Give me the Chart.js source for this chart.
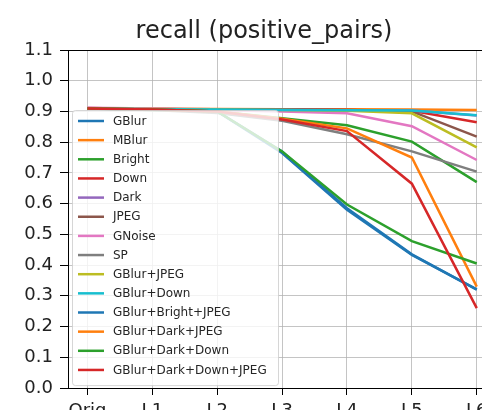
<!DOCTYPE html>
<html>
<head>
<meta charset="utf-8">
<script src="https://cdn.jsdelivr.net/npm/chart.js@4.4.1/dist/chart.umd.min.js"></script>
<style>
  html, body { margin: 0; padding: 0; overflow: hidden; background: #fff; }
  #wrap { width: 482px; height: 410px; overflow: hidden; }
</style>
</head>
<body>
<div id="wrap"><canvas id="recallChart" width="528" height="430"></canvas></div>
<script>
// x positions: original image and six attack levels
var levels = ["Orig", "L1", "L2", "L3", "L4", "L5", "L6"];

var attackNames = ["GBlur", "MBlur", "Bright", "Down", "Dark", "JPEG", "GNoise", "SP",
    "GBlur+JPEG", "GBlur+Down", "GBlur+Bright+JPEG", "GBlur+Dark+JPEG",
    "GBlur+Dark+Down", "GBlur+Dark+Down+JPEG"];

// matplotlib tab10 cycle
var lineColors = ["#1f77b4", "#ff7f0e", "#2ca02c", "#d62728", "#9467bd", "#8c564b", "#e377c2",
    "#7f7f7f", "#bcbd22", "#17becf", "#1f77b4", "#ff7f0e", "#2ca02c", "#d62728"];

// recall per level, one list per attack
var gblur           = [0.910, 0.907, 0.900, 0.770, 0.585, 0.435, 0.320];
var mblur           = [0.910, 0.908, 0.908, 0.907, 0.907, 0.906, 0.905];
var bright          = [0.910, 0.905, 0.900, 0.878, 0.855, 0.802, 0.670];
var down            = [0.911, 0.908, 0.907, 0.906, 0.905, 0.902, 0.865];
var dark            = [0.910, 0.907, 0.906, 0.905, 0.904, 0.903, 0.887];
var jpeg            = [0.910, 0.908, 0.907, 0.906, 0.905, 0.900, 0.818];
var gnoise          = [0.912, 0.910, 0.905, 0.900, 0.894, 0.852, 0.742];
var sp              = [0.910, 0.905, 0.895, 0.870, 0.826, 0.770, 0.704];
var gblurJpeg       = [0.910, 0.908, 0.906, 0.905, 0.902, 0.894, 0.783];
var gblurDown       = [0.910, 0.907, 0.906, 0.905, 0.904, 0.903, 0.888];
var gblurBrightJpeg = [0.910, 0.906, 0.900, 0.765, 0.580, 0.433, 0.321];
var gblurDarkJpeg   = [0.910, 0.906, 0.900, 0.876, 0.845, 0.750, 0.330];
var gblurDarkDown   = [0.910, 0.906, 0.900, 0.770, 0.597, 0.478, 0.405];
var gblurDarkDownJpeg = [0.910, 0.906, 0.900, 0.874, 0.836, 0.665, 0.260];

var allSeries = [gblur, mblur, bright, down, dark, jpeg, gnoise, sp, gblurJpeg, gblurDown,
    gblurBrightJpeg, gblurDarkJpeg, gblurDarkDown, gblurDarkDownJpeg];

var yTicks = [0.0, 0.1, 0.2, 0.3, 0.4, 0.5, 0.6, 0.7, 0.8, 0.9, 1.0, 1.1];

var FONT = "'DejaVu Sans', sans-serif";

// legend box drawn inside the axes, like matplotlib's
Chart.register({
    id: 'innerLegend',
    afterDatasetsDraw: function(chart) {
        const ctx = chart.ctx;
        const x0 = 72, y0 = 110, w = 206, rowH = 19.15;
        const h = rowH * chart.data.datasets.length + 7;
        ctx.save();
        ctx.beginPath();
        ctx.roundRect(x0 + 0.5, y0 + 0.5, w, h, 3);
        ctx.fillStyle = 'rgba(255,255,255,0.8)';
        ctx.fill();
        ctx.strokeStyle = 'rgba(204,204,204,0.8)';
        ctx.lineWidth = 1;
        ctx.stroke();
        ctx.font = '12px ' + FONT;
        ctx.textBaseline = 'middle';
        chart.data.datasets.forEach((ds, i) => {
            const y = y0 + 11 + i * rowH;
            ctx.beginPath();
            ctx.moveTo(78, y);
            ctx.lineTo(104, y);
            ctx.strokeStyle = ds.borderColor;
            ctx.lineWidth = 2.5;
            ctx.stroke();
            ctx.fillStyle = '#262626';
            ctx.fillText(ds.label, 113, y + 0.5);
        });
        ctx.restore();
    }
});

// top spine
Chart.register({
    id: 'topSpine',
    afterDraw: function(chart) {
        const ctx = chart.ctx;
        const a = chart.chartArea;
        ctx.save();
        ctx.strokeStyle = '#000';
        ctx.lineWidth = 1;
        ctx.beginPath();
        ctx.moveTo(a.left, Math.round(a.top) + 0.5);
        ctx.lineTo(a.right, Math.round(a.top) + 0.5);
        ctx.stroke();
        ctx.restore();
    }
});

var n = attackNames.length;
var datasets = attackNames.map((name, i) => ({
    label: name,
    data: allSeries[i].map((v, j) => ({ x: j, y: v })),
    borderColor: lineColors[i],
    backgroundColor: lineColors[i],
    borderWidth: 2.5,
    pointRadius: 0,
    tension: 0,
    fill: false,
    order: n - i
}));

var ctx = document.getElementById("recallChart").getContext("2d");
var recallChart = new Chart(ctx, {
    type: "line",
    data: { datasets: datasets },
    options: {
        responsive: false,
        animation: false,
        devicePixelRatio: 1,
        layout: { padding: 0 },
        plugins: {
            legend: { display: false },
            tooltip: { enabled: false },
            title: {
                display: true,
                text: "recall (positive_pairs)",
                color: '#222',
                font: { family: FONT, size: 24, weight: 'normal', lineHeight: 1.2 },
                padding: { top: 17.6, bottom: 3.6 }
            }
        },
        scales: {
            x: {
                type: 'linear',
                min: -0.3,
                max: 6.79,
                afterBuildTicks: function(scale) {
                    scale.ticks = levels.map((l, i) => ({ value: i }));
                },
                afterFit: function(scale) { scale.height = 42; },
                ticks: {
                    callback: function(value) { return levels[value]; },
                    color: '#222',
                    font: { family: FONT, size: 18 },
                    padding: 6,
                    maxRotation: 0,
                    autoSkip: false
                },
                grid: { color: 'rgba(176,176,176,0.75)', lineWidth: 1, tickColor: '#000', tickLength: 7 },
                border: { color: '#000', width: 1 }
            },
            y: {
                min: 0,
                max: 1.1,
                afterBuildTicks: function(scale) {
                    scale.ticks = yTicks.map(v => ({ value: v }));
                },
                afterFit: function(scale) { scale.width = 68; },
                ticks: {
                    callback: function(value) { return value.toFixed(1); },
                    color: '#222',
                    font: { family: FONT, size: 18 },
                    padding: 7
                },
                grid: { color: 'rgba(176,176,176,0.75)', lineWidth: 1, tickColor: '#000', tickLength: 8 },
                border: { color: '#000', width: 1 }
            }
        }
    }
});
</script>
</body>
</html>
